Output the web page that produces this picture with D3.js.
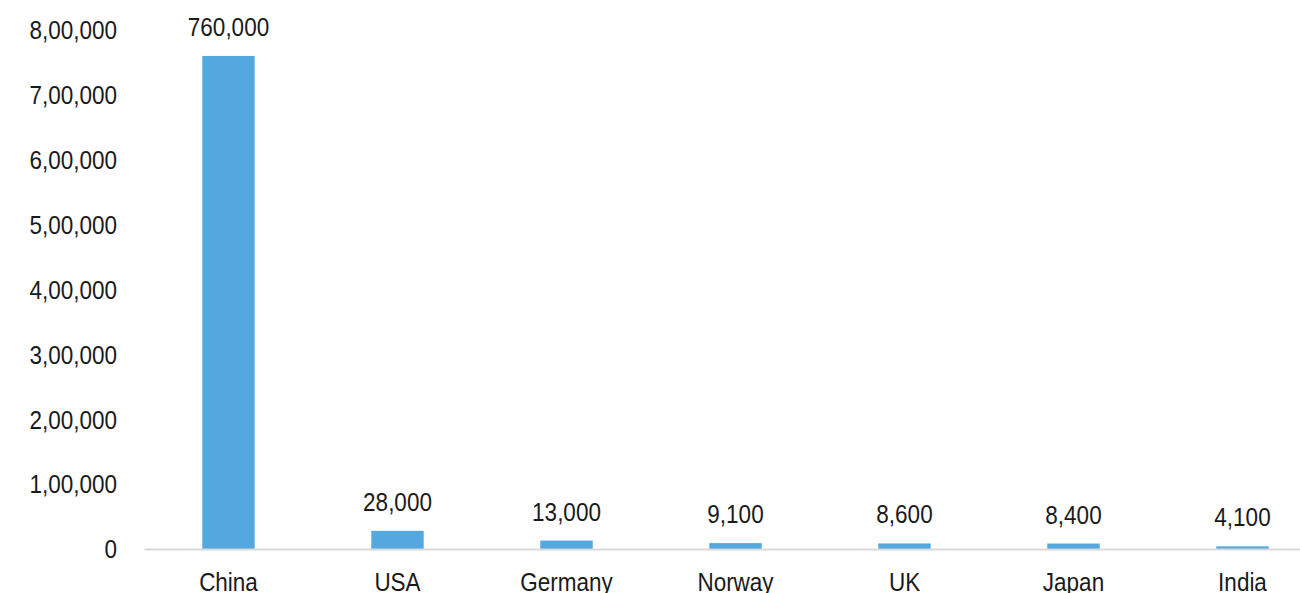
<!DOCTYPE html>
<html>
<head>
<meta charset="utf-8">
<script src="https://cdn.jsdelivr.net/npm/d3@7"></script>
<style>
  html, body { margin: 0; padding: 0; background: #ffffff; overflow: hidden; }
  text { font-family: "Liberation Sans", Arial, sans-serif; fill: #1a1a1a; }
</style>
</head>
<body>
<svg id="chart" width="1300" height="593"></svg>
<script>
const categories = ["China", "USA", "Germany", "Norway", "UK", "Japan", "India"];
const values = [760000, 28000, 13000, 9100, 8600, 8400, 4100];
const yTicks = [0, 100000, 200000, 300000, 400000, 500000, 600000, 700000, 800000];

const svg = d3.select("#chart");

const x = d3.scaleBand().domain(categories).range([144, 1327]).paddingInner(0).paddingOuter(0);
const y = d3.scaleLinear().domain([0, 800000]).range([549, 30]);

// Indian number format for axis: 8,00,000
function indianFormat(v) {
  const s = String(Math.round(v));
  if (s.length <= 3) return s;
  const last3 = s.slice(-3);
  let rest = s.slice(0, -3);
  const parts = [];
  while (rest.length > 2) { parts.unshift(rest.slice(-2)); rest = rest.slice(0, -2); }
  if (rest.length) parts.unshift(rest);
  return parts.join(",") + "," + last3;
}
const westernFormat = d3.format(",");

const fontSize = 25;
const sx = 0.9; // horizontal condensing to mimic condensed face

// bars
const barW = x.bandwidth() * 0.31;
svg.append("g").selectAll("rect")
  .data(values)
  .join("rect")
  .attr("x", (d, i) => x(categories[i]) + x.bandwidth() / 2 - barW / 2)
  .attr("y", d => y(d))
  .attr("width", barW)
  .attr("height", d => y(0) - y(d))
  .attr("fill", "#53a9df");

// baseline axis
const xAxis = d3.axisBottom(x).tickSize(0).tickPadding(0);
const gx = svg.append("g").attr("transform", `translate(0,${y(0)})`).call(xAxis);
gx.attr("font-family", null).attr("font-size", null);
gx.select(".domain").attr("stroke", "#d9d9d9").attr("stroke-width", 2);
gx.selectAll(".tick text")
  .attr("y", 0)
  .attr("dy", 0)
  .attr("transform", `translate(0,42) scale(${sx},1)`)
  .style("font-size", fontSize + "px")
  .attr("fill", "#1a1a1a");

// y axis labels
const yAxis = d3.axisLeft(y).tickValues(yTicks).tickFormat(indianFormat).tickSize(0).tickPadding(0);
const gy = svg.append("g").attr("transform", `translate(117,0)`).call(yAxis);
gy.attr("font-family", null).attr("font-size", null);
gy.select(".domain").remove();
gy.selectAll(".tick text")
  .attr("x", 0)
  .attr("dy", "0.35em")
  .attr("transform", `scale(${sx},1)`)
  .style("font-size", fontSize + "px")
  .attr("fill", "#1a1a1a");

// value labels
svg.append("g").selectAll("text")
  .data(values)
  .join("text")
  .attr("transform", (d, i) => `translate(${x(categories[i]) + x.bandwidth() / 2},${y(d) - 20}) scale(${sx},1)`)
  .attr("text-anchor", "middle")
  .style("font-size", fontSize + "px")
  .text(d => westernFormat(d));
</script>
</body>
</html>
